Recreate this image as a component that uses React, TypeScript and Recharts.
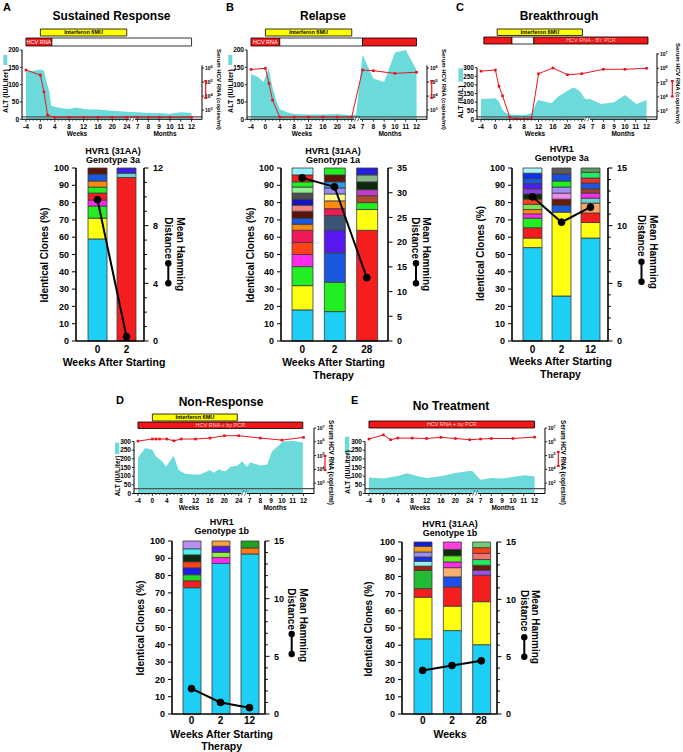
import React from 'react';
import {
  ComposedChart, Area, Line, Bar, Cell, XAxis, YAxis, ReferenceArea, ReferenceLine,
} from 'recharts';

const FONT = '"Liberation Sans", Arial, Helvetica, sans-serif';
const ALT_FILL = '#6cdada';
const RNA_RED = '#e8141c';

// ================= Timeline axis (weeks -4..24, then months 7..12 every 3 units) =================
const weekTicks = [-4, -3, -2, -1, 0, 1, 2, 3, 4, 5, 6, 7, 8, 9, 10, 11, 12, 13, 14, 15, 16, 17, 18, 19, 20, 21, 22, 23, 24];
const axisBreak = 25.5;
const monthPositions = [27, 30, 33, 36, 39, 42];
const monthLabels = ['7', '8', '9', '10', '11', '12'];

// ================= Panel A timeline =================
const aAltWeeks = [-4, -2, 0, 1, 1.8, 2.5, 3, 4, 6, 8, 10, 12, 14, 16, 20, 24, 27, 30, 33, 36, 39, 42];
const aAltValues = [138, 140, 144, 140, 105, 80, 40, 36, 32, 30, 34, 30, 28, 28, 25, 22, 20, 18, 18, 16, 20, 18];
const aRnaWeeks = [-4, 0, 1, 2, 4, 8, 12, 16, 20, 24, 27, 30, 33, 36, 42];
const aRnaLog = [5.86, 5.5, 4.3, 2.64, 2.48, 2.48, 2.48, 2.48, 2.48, 2.48, 2.48, 2.48, 2.48, 2.48, 2.48];
const aInterferon = [0, 24];
const aRnaFrom = [-4, 3.2];
const aRnaTo = [3.2, 42];
const aRnaPositive = [true, false];

// ================= Panel B timeline =================
const bAltWeeks = [-4, -2, -0.5, 0.9, 2, 3, 4, 6, 8, 12, 16, 20, 24, 25.2, 27, 30, 33, 36, 39, 42];
const bAltValues = [131, 121, 108, 147, 92, 55, 29, 20, 15, 14, 14, 15, 12, 14, 186, 118, 108, 193, 200, 142];
const bRnaWeeks = [-4, 0, 1, 2, 4, 8, 12, 16, 20, 24, 27, 30, 36, 42];
const bRnaLog = [5.9, 5.98, 4.9, 3.71, 2.5, 2.5, 2.5, 2.5, 2.5, 2.5, 5.86, 5.81, 5.62, 5.7];
const bInterferon = [0, 24];
const bRnaFrom = [-4, 4, 27];
const bRnaTo = [4, 27, 42];
const bRnaPositive = [true, false, true];

// ================= Panel C timeline =================
const cAltWeeks = [-4, 0, 1, 2, 3, 4, 6, 8, 10, 10.6, 11.5, 12, 12.7, 15.6, 17.4, 21.2, 22, 23.6, 25, 26.3, 29.4, 33, 36, 39.2, 42];
const cAltValues = [118, 122, 103, 54, 35, 29, 25, 25, 35, 60, 100, 112, 108, 93, 131, 180, 184, 160, 116, 118, 89, 99, 141, 89, 112];
const cRnaWeeks = [-4, 0, 1, 2, 4, 6, 8, 10, 12, 16, 20, 24, 30, 36, 42];
const cRnaLog = [5.8, 5.88, 4.74, 4.07, 2.57, 2.46, 2.46, 2.46, 5.62, 6.02, 5.55, 5.62, 5.93, 5.93, 6.0];
const cInterferon = [0.5, 24.2];
const cRnaFrom = [-3.2, 4.6, 10.7];
const cRnaTo = [4.6, 10.7, 42.4];
const cRnaPositive = [true, false, true];

// ================= Panel D timeline =================
const dAltWeeks = [-4, -2, 0, 1, 2.7, 3.8, 5.9, 7.3, 9.1, 12, 13.3, 16, 17, 18.4, 20.3, 21.7, 23.7, 24.9, 26.3, 27.2, 30, 31.9, 33.2, 36.3, 39.2, 41.8];
const dAltValues = [205, 262, 252, 214, 186, 154, 218, 135, 114, 110, 110, 135, 120, 139, 129, 154, 161, 186, 154, 180, 161, 167, 243, 300, 304, 294];
const dRnaWeeks = [-4, 0, 1, 2, 4, 6, 8, 12, 16, 20, 24, 30, 36, 42];
const dRnaLog = [6.05, 6.2, 6.2, 6.2, 6.2, 6.07, 6.2, 6.2, 6.27, 6.44, 6.44, 6.27, 6.12, 6.32];
const dInterferon = [0, 23.6];
const dRnaFrom = [-4];
const dRnaTo = [41.8];
const dRnaPositive = [true];

// ================= Panel E timeline =================
const eAltWeeks = [-4, 0, 4, 6.6, 9.4, 12, 16, 20, 24, 24.8, 27, 30, 33, 36.2, 39.2, 42];
const eAltValues = [92, 86, 101, 117, 101, 90, 99, 118, 130, 128, 80, 90, 86, 96, 105, 99];
const eRnaWeeks = [-4, 0, 2, 4, 8, 12, 16, 20, 24, 27, 30, 36, 42];
const eRnaLog = [6.2, 6.5, 6.15, 6.27, 6.27, 6.24, 6.32, 6.24, 6.15, 6.2, 6.24, 6.24, 6.34];
const eRnaFrom = [-4];
const eRnaTo = [42];
const eRnaPositive = [true];

// ================= Clone bar data (bottom -> top segments, %) =================
const aCats = ['0', '2'];
const aWk0 = [59, 12, 7, 3.5, 4, 3.5, 3.5, 4, 3.5];
const aWk2 = [94.5, 2.5, 3];
const aHamming = [9.8, 0.3];

const bCats = ['0', '2', '28'];
const bWk0 = [18, 14, 11, 7, 7, 7, 3.5, 3.5, 4, 3.5, 3.5, 3.5, 3.5, 3, 4, 4];
const bWk2 = [17, 17, 17, 13, 8.5, 4, 4.5, 4, 3.5, 3.5, 4, 4];
const bWk28 = [64, 12, 4, 4, 3.5, 4.5, 4, 4];
const bHamming = [33, 31.2, 12.8];

const cCats = ['0', '2', '12'];
const cWk0 = [54, 5.5, 6, 5.5, 2.5, 2.5, 3, 3, 3, 3, 3, 3, 3, 3];
const cWk2 = [26, 48.5, 4, 3.5, 3.5, 3.5, 3.5, 4, 3.5];
const cWk12 = [59.5, 9, 5.5, 5.7, 2.9, 2.9, 2.5, 3.3, 2.9, 3.3, 2.5];
const cHamming = [12.5, 10.3, 11.6];

const dCats = ['0', '2', '12'];
const dWk0 = [73, 4, 3.5, 4, 3.5, 4, 3.5, 4.5];
const dWk2 = [87, 3.5, 3, 3.5, 3];
const dWk12 = [92.5, 3.5, 4];
const dHamming = [2.2, 1.0, 0.55];

const eCats = ['0', '2', '28'];
const eWk0 = [43.7, 24.2, 5, 10.6, 2.5, 2.8, 2.5, 2.9, 3.3, 2.5];
const eWk2 = [48.5, 14.2, 11.2, 5.8, 5.4, 3.3, 3.6, 3.7, 4.3];
const eWk28 = [40.3, 25, 15.4, 2.9, 2.9, 3.3, 3.6, 3.3, 3.3];
const eHamming = [3.8, 4.23, 4.64];

// ================= segment colours (styles) =================
const CY = '#1dcff5', YE = '#ffff10', GR = '#22ee22', MA = '#ff2aee', RE = '#f51e1e', OR = '#ff8a10',
  BL = '#1a58e0', DB = '#5a1408', TE = '#66d4d4', VB = '#3a22e6', CR = '#f0195a', RO = '#ff4018',
  SA = '#f58080', DK = '#1414c0', GY = '#4e4e4e', LG = '#92ee92', LC = '#92f0ff', SL = '#3b5577',
  VI = '#5818f0', LY = '#ffff8a', PW = '#9c8cf2', SK = '#2a9af0', SI = '#b04a2a', PM = '#c03cc8',
  DG = '#0d2a0d', SG = '#88b888', LO = '#f8a860', LV = '#b890f0', PU = '#8a40e0', BG = '#20ee60';

const aColors = [[CY, YE, GR, MA, RE, GR, OR, BL, DB], [RE, TE, VB]];
const bColors = [
  [CY, YE, GR, MA, RO, CR, OR, BL, DB, SA, DK, GY, LG, GR, RE, LC],
  [CY, GR, BL, VI, SL, CR, OR, LY, PW, SK, DB, GR],
  [RE, YE, GR, SI, PM, DG, SG, '#2222dd'],
];
const cColors = [
  [CY, YE, RE, GR, MA, OR, '#80e050', RO, DG, PU, '#4c20e8', BL, '#1030f0', '#a8f4ff'],
  [CY, YE, BL, '#6a1a08', '#f08af0', '#a090f0', GR, '#1a50e0', '#5a5a5a'],
  [CY, YE, RE, LO, '#70d0d0', MA, '#9a4030', BL, '#f03030', BG, '#5a9a60'],
];
const dColors = [
  [CY, RE, '#22dd22', '#1a20f0', RO, DG, '#50f0f0', LV],
  [CY, MA, '#90f040', VI, '#f8a040'],
  [CY, '#ff7a10', '#20a020'],
];
const eColors = [
  [CY, YE, RE, '#22bb33', '#a82010', LC, '#1a30f0', '#9a90f0', '#f8a020', '#1020e0'],
  [CY, YE, RE, '#1a50f0', '#f8b070', MA, '#60f020', DG, '#ff40e0'],
  [CY, YE, RE, '#9a50f0', '#6a1a08', BG, '#f87070', RO, '#70cc70'],
];

// ================= layout configs =================
type TLCfg = {
  left: number; right: number; top: number; bottom: number; mt: number;
  altMax: number; altTicks: number[]; altAxisTop: number;
  logMin: number; logMax: number; logTicks: number[]; logAxisTop: number; detect: number;
};
const X_DOMAIN: [number, number] = [-5.1, 44.9];
const alt200 = [0, 50, 100, 150, 200];
const alt300 = [0, 50, 100, 150, 200, 250, 300];
const tlA: TLCfg = { left: 22, right: 202, top: 50, bottom: 119.3, mt: 26, altMax: 200, altTicks: alt200, altAxisTop: 200, logMin: 2.34, logMax: 7.29, logTicks: [3, 4, 5, 6], logAxisTop: 6.2, detect: 2.52 };
const tlB: TLCfg = { ...tlA, left: 247, right: 427 };
const tlC: TLCfg = { left: 477, right: 657, top: 50, bottom: 119.3, mt: 26, altMax: 403, altTicks: alt300, altAxisTop: 300, logMin: 2.43, logMax: 7.28, logTicks: [3, 4, 5, 6, 7], logAxisTop: 7.05, detect: 2.6 };
const tlD: TLCfg = { left: 134, right: 314, top: 428, bottom: 493.5, mt: 20, altMax: 378, altTicks: alt300, altAxisTop: 300, logMin: 2.25, logMax: 7, logTicks: [3, 4, 5, 6, 7], logAxisTop: 7, detect: 2.6 };
const tlE: TLCfg = { ...tlD, left: 365.3, right: 545.3 };

type BCCfg = { left: number; right: number; top: number; bottom: number; hamMax: number; hamMajor: number; hamStep: number; barSize: number; pad: { left: number; right: number }; tickGap: number };
const bcA: BCCfg = { left: 76, right: 144, top: 168, bottom: 341, hamMax: 12, hamMajor: 4, hamStep: 1, barSize: 19, pad: { left: 7, right: 3 }, tickGap: 5 };
const bcB: BCCfg = { left: 281, right: 388, top: 168, bottom: 341, hamMax: 35, hamMajor: 5, hamStep: 5, barSize: 21, pad: { left: 5, right: 5 }, tickGap: 5 };
const bcC: BCCfg = { left: 512, right: 608, top: 168, bottom: 341, hamMax: 15, hamMajor: 5, hamStep: 1, barSize: 19, pad: { left: 6, right: 3 }, tickGap: 5 };
const bcD: BCCfg = { left: 172, right: 265, top: 541, bottom: 714, hamMax: 15, hamMajor: 5, hamStep: 1, barSize: 18, pad: { left: 5, right: 1 }, tickGap: 3 };
const bcE: BCCfg = { left: 402, right: 497, top: 542, bottom: 714, hamMax: 15, hamMajor: 5, hamStep: 1, barSize: 18, pad: { left: 6, right: 1 }, tickGap: 3 };

// ================= helpers =================
function mergeTimeline(altX: number[], altY: number[], rnaX: number[], rnaY: number[]) {
  const m = new Map<number, any>();
  altX.forEach((x, i) => { const r = m.get(x) || { p: x }; r.alt = altY[i]; m.set(x, r); });
  rnaX.forEach((x, i) => { const r = m.get(x) || { p: x }; r.rna = rnaY[i]; m.set(x, r); });
  return Array.from(m.values()).sort((a, b) => a.p - b.p);
}
function periods(from: number[], to: number[], pos: boolean[], labelIdx: number, label: string, labelColor: string) {
  return from.map((f, i) => ({ from: f, to: to[i], pos: pos[i], label: i === labelIdx ? label : '', labelColor }));
}
function pxToAlt(cfg: TLCfg, y: number) {
  return cfg.altMax * (cfg.bottom - y) / (cfg.bottom - cfg.top);
}
const timeTicks = [...weekTicks, axisBreak, ...monthPositions];
function timeLabel(v: number): string | null {
  const mi = monthPositions.indexOf(v);
  if (mi >= 0) return monthLabels[mi];
  if (v <= 24 && v % 4 === 0) return String(v);
  return null;
}
const renderTimeTick = (props: any) => {
  const { x, y, payload } = props;
  const v = payload.value;
  if (v === axisBreak) {
    return (
      <g>
        <rect x={x - 2.8} y={y - 1.5} width={5.6} height={3} fill="#fff" />
        <line x1={x - 2.6} y1={y + 2} x2={x - 0.6} y2={y - 3} stroke="#000" strokeWidth={0.6} />
        <line x1={x + 0.4} y1={y + 2} x2={x + 2.4} y2={y - 3} stroke="#000" strokeWidth={0.6} />
      </g>
    );
  }
  const lab = timeLabel(v);
  if (lab == null) return <line x1={x} x2={x} y1={y} y2={y + 1.4} stroke="#000" strokeWidth={0.7} />;
  return (
    <g>
      <line x1={x} x2={x} y1={y} y2={y + 2.5} stroke="#000" strokeWidth={0.8} />
      <text x={x} y={y + 9.3} textAnchor="middle" fontSize={6.5} fontWeight={700} fontFamily={FONT} fill="#000">{lab}</text>
    </g>
  );
};
const renderAltTick = (props: any) => {
  const { x, y, payload } = props;
  return (
    <g>
      <line x1={x - 2.2} x2={x} y1={y} y2={y} stroke="#000" strokeWidth={0.8} />
      <text x={x - 3} y={y + 2.3} textAnchor="end" fontSize={6.5} fontWeight={700} fontFamily={FONT} fill="#000">{payload.value}</text>
    </g>
  );
};
const renderLogTick = (props: any) => {
  const { x, y, payload } = props;
  return (
    <g>
      <line x1={x} x2={x + 2.2} y1={y} y2={y} stroke="#000" strokeWidth={0.8} />
      <text x={x + 3} y={y + 2} textAnchor="start" fontSize={5} fontWeight={700} fontFamily={FONT} fill="#000">
        10<tspan dy={-2.3} fontSize={3.8}>{payload.value}</tspan>
      </text>
    </g>
  );
};
const makeHamTick = (major: number) => (props: any) => {
  const { x, y, payload } = props;
  const v = payload.value;
  const isMajor = v % major === 0;
  return (
    <g>
      <line x1={x} x2={x + (isMajor ? 4.5 : 2.8)} y1={y} y2={y} stroke="#000" strokeWidth={1} />
      {isMajor ? <text x={x + 9} y={y + 3.3} fontSize={9} fontWeight={700} fontFamily={FONT} fill="#000">{v}</text> : null}
    </g>
  );
};
const rnaDot = (props: any) => {
  const { cx, cy, payload, index } = props;
  if (payload == null || payload.rna == null || cx == null || cy == null) return <g key={`e${index}`} />;
  return <rect key={`d${index}`} x={cx - 1.3} y={cy - 1.3} width={2.6} height={2.6} fill={RNA_RED} />;
};

type Period = { from: number; to: number; pos: boolean; label: string; labelColor: string };

function Timeline({ cfg, rows, ifn, ifnY, rna, rnaY }: { cfg: TLCfg; rows: any[]; ifn: number[] | null; ifnY: number[]; rna: Period[]; rnaY: number[] }) {
  const wl = 26, wr = 20, hx = 12;
  const W = cfg.right - cfg.left + wl + wr;
  const H = cfg.mt + (cfg.bottom - cfg.top) + hx;
  return (
    <div style={{ position: 'absolute', left: cfg.left - wl, top: cfg.top - cfg.mt }}>
      <ComposedChart width={W} height={H} data={rows} margin={{ top: cfg.mt, right: 0, bottom: 0, left: 0 }}>
        <XAxis dataKey="p" type="number" domain={X_DOMAIN} allowDataOverflow ticks={timeTicks} interval={0}
          tick={renderTimeTick} tickLine={false} tickSize={0} tickMargin={0} height={hx}
          axisLine={{ stroke: '#000', strokeWidth: 1 }} />
        <YAxis yAxisId="alt" width={wl} domain={[0, cfg.altMax]} allowDataOverflow ticks={cfg.altTicks} interval={0}
          tick={renderAltTick} tickLine={false} tickSize={0} tickMargin={0} axisLine={false} />
        <YAxis yAxisId="rna" orientation="right" width={wr} domain={[cfg.logMin, cfg.logMax]} allowDataOverflow
          ticks={cfg.logTicks} interval={0} tick={renderLogTick} tickLine={false} tickSize={0} tickMargin={0} axisLine={false} />
        <Area yAxisId="alt" dataKey="alt" type="linear" stroke="none" fill={ALT_FILL} fillOpacity={1}
          connectNulls isAnimationActive={false} />
        <ReferenceLine yAxisId="rna" y={cfg.detect} stroke="#555" strokeWidth={1.2} />
        <ReferenceLine yAxisId="alt" segment={[{ x: X_DOMAIN[0], y: 0 }, { x: X_DOMAIN[0], y: cfg.altAxisTop }]}
          stroke="#000" strokeWidth={1} ifOverflow="visible" />
        <ReferenceLine yAxisId="rna" segment={[{ x: X_DOMAIN[1], y: cfg.logMin }, { x: X_DOMAIN[1], y: cfg.logAxisTop }]}
          stroke="#000" strokeWidth={1} ifOverflow="visible" />
        <Line yAxisId="rna" dataKey="rna" type="linear" stroke={RNA_RED} strokeWidth={1} connectNulls
          dot={rnaDot} activeDot={false} isAnimationActive={false} />
        {ifn ? (
          <ReferenceArea yAxisId="alt" x1={ifn[0]} x2={ifn[1]} y1={pxToAlt(cfg, ifnY[1])} y2={pxToAlt(cfg, ifnY[0])}
            fill="#ffff00" fillOpacity={1} stroke="#000" strokeWidth={0.8} ifOverflow="visible"
            label={{ value: 'Interferon 6MU', position: 'center', fontSize: 5.5, fontWeight: 700, fill: '#000', fontFamily: FONT }} />
        ) : null}
        {rna.map((r, i) => (
          <ReferenceArea key={i} yAxisId="alt" x1={r.from} x2={r.to} y1={pxToAlt(cfg, rnaY[1])} y2={pxToAlt(cfg, rnaY[0])}
            fill={r.pos ? '#f01818' : '#ffffff'} fillOpacity={1} stroke="#000" strokeWidth={0.8} ifOverflow="visible"
            label={r.label ? { value: r.label, position: 'center', fontSize: 5.5, fill: r.labelColor, fontFamily: FONT } : undefined} />
        ))}
      </ComposedChart>
    </div>
  );
}

const pctTicks = [0, 10, 20, 30, 40, 50, 60, 70, 80, 90, 100];

function CloneChart({ cfg, cats, segs, cols, ham }: { cfg: BCCfg; cats: string[]; segs: number[][]; cols: string[][]; ham: number[] }) {
  const wl = 28, wr = 24, mt = 6, hx = 18;
  const W = cfg.right - cfg.left + wl + wr;
  const H = mt + (cfg.bottom - cfg.top) + hx;
  const nSeg = Math.max(...segs.map((s) => s.length));
  const rows = cats.map((c, i) => {
    const r: any = { cat: c, ham: ham[i] };
    segs[i].forEach((v, j) => { r['s' + j] = v; });
    return r;
  });
  const hamTicks: number[] = [];
  for (let v = 0; v <= cfg.hamMax; v += cfg.hamStep) hamTicks.push(v);
  return (
    <div style={{ position: 'absolute', left: cfg.left - wl, top: cfg.top - mt }}>
      <ComposedChart width={W} height={H} data={rows} margin={{ top: mt, right: 0, bottom: 0, left: 0 }}>
        <XAxis dataKey="cat" padding={cfg.pad} tickLine={false} tickSize={0} tickMargin={cfg.tickGap} height={hx} interval={0}
          axisLine={{ stroke: '#000', strokeWidth: 1.6 }}
          tick={{ fontSize: 10, fontWeight: 700, fill: '#000', fontFamily: FONT }} />
        <YAxis yAxisId="pct" width={wl} domain={[0, 100]} ticks={pctTicks} interval={0} tickSize={4} tickMargin={3}
          tickLine={{ stroke: '#000' }} axisLine={{ stroke: '#000', strokeWidth: 1.6 }}
          tick={{ fontSize: 9, fontWeight: 700, fill: '#000', fontFamily: FONT }} />
        <YAxis yAxisId="ham" orientation="right" width={wr} domain={[0, cfg.hamMax]} ticks={hamTicks} interval={0}
          tickSize={0} tickMargin={0} tickLine={false} axisLine={{ stroke: '#000', strokeWidth: 1.6 }}
          tick={makeHamTick(cfg.hamMajor)} />
        {Array.from({ length: nSeg }, (_, j) => (
          <Bar key={'s' + j} yAxisId="pct" dataKey={'s' + j} stackId="clones" barSize={cfg.barSize} isAnimationActive={false}>
            {rows.map((r, i) => (
              <Cell key={i} fill={cols[i][j] ?? 'none'} stroke={cols[i][j] ? '#3a3a3a' : 'none'} strokeWidth={0.8} />
            ))}
          </Bar>
        ))}
        <Line yAxisId="ham" dataKey="ham" type="linear" stroke="#000" strokeWidth={2}
          dot={{ r: 3.4, fill: '#000', stroke: '#000', strokeWidth: 1 }} activeDot={false} isAnimationActive={false} />
      </ComposedChart>
    </div>
  );
}

// ================= overlay text helpers =================
const bold = { fontFamily: FONT, fontWeight: 700, fill: '#000' } as const;
function Tx({ x, y, s, a = 'middle', c = '#000', w = 700, children }: any) {
  return <text x={x} y={y} fontSize={s} textAnchor={a} fontFamily={FONT} fontWeight={w} fill={c}>{children}</text>;
}
function VUp({ x, y, s, children }: any) {
  return <text transform={`translate(${x},${y}) rotate(-90)`} textAnchor="middle" dominantBaseline="central" fontSize={s} {...bold}>{children}</text>;
}
function VDown({ x, y, s, children }: any) {
  return <text transform={`translate(${x},${y}) rotate(90)`} textAnchor="start" dominantBaseline="central" fontSize={s} {...bold}>{children}</text>;
}
function Lollipop({ x, y1, y2 }: any) {
  return (
    <g>
      <line x1={x} x2={x} y1={y1} y2={y2} stroke="#000" strokeWidth={2} />
      <circle cx={x} cy={y1} r={3.2} fill="#000" />
      <circle cx={x} cy={y2} r={3.2} fill="#000" />
    </g>
  );
}
function RedKey({ x, y1, y2 }: any) {
  return (
    <g>
      <line x1={x} x2={x} y1={y1} y2={y2} stroke={RNA_RED} strokeWidth={1.2} />
      <rect x={x - 1.4} y={y1 - 1} width={2.8} height={2} fill={RNA_RED} />
      <rect x={x - 1.4} y={y2 - 1} width={2.8} height={2} fill={RNA_RED} />
    </g>
  );
}
function Swatch({ x, y, w, h }: any) {
  return <rect x={x} y={y} width={w} height={h} fill={ALT_FILL} />;
}
function HamLabel({ x1, x2, y, lx, ly1, ly2 }: any) {
  return (
    <g>
      <VDown x={x1} y={y} s={10}>Mean Hamming</VDown>
      <VDown x={x2} y={y} s={10}>Distance</VDown>
      <Lollipop x={lx} y1={ly1} y2={ly2} />
    </g>
  );
}

// ================= rows =================
const aRows = mergeTimeline(aAltWeeks, aAltValues, aRnaWeeks, aRnaLog);
const bRows = mergeTimeline(bAltWeeks, bAltValues, bRnaWeeks, bRnaLog);
const cRows = mergeTimeline(cAltWeeks, cAltValues, cRnaWeeks, cRnaLog);
const dRows = mergeTimeline(dAltWeeks, dAltValues, dRnaWeeks, dRnaLog);
const eRows = mergeTimeline(eAltWeeks, eAltValues, eRnaWeeks, eRnaLog);

export default function App() {
  return (
    <div style={{ position: 'absolute', left: 0, top: 0, width: 683, height: 752, background: '#fff', overflow: 'hidden' }}>
      <Timeline cfg={tlA} rows={aRows} ifn={aInterferon} ifnY={[29, 36]}
        rna={periods(aRnaFrom, aRnaTo, aRnaPositive, 0, 'HCV RNA', '#fff')} rnaY={[38, 46]} />
      <Timeline cfg={tlB} rows={bRows} ifn={bInterferon} ifnY={[29, 36]}
        rna={periods(bRnaFrom, bRnaTo, bRnaPositive, 0, 'HCV RNA', '#fff')} rnaY={[38, 46]} />
      <Timeline cfg={tlC} rows={cRows} ifn={cInterferon} ifnY={[29, 35.5]}
        rna={periods(cRnaFrom, cRnaTo, cRnaPositive, 2, 'HCV RNA - BY PCR', '#ffc0c0')} rnaY={[37, 44]} />
      <Timeline cfg={tlD} rows={dRows} ifn={dInterferon} ifnY={[414, 421]}
        rna={periods(dRnaFrom, dRnaTo, dRnaPositive, 0, 'HCV RNA + by PCR', '#ffd0d0')} rnaY={[422, 428.5]} />
      <Timeline cfg={tlE} rows={eRows} ifn={null} ifnY={[0, 0]}
        rna={periods(eRnaFrom, eRnaTo, eRnaPositive, 0, 'HCV RNA + by PCR', '#ffd0d0')} rnaY={[421, 428]} />

      <CloneChart cfg={bcA} cats={aCats} segs={[aWk0, aWk2]} cols={aColors} ham={aHamming} />
      <CloneChart cfg={bcB} cats={bCats} segs={[bWk0, bWk2, bWk28]} cols={bColors} ham={bHamming} />
      <CloneChart cfg={bcC} cats={cCats} segs={[cWk0, cWk2, cWk12]} cols={cColors} ham={cHamming} />
      <CloneChart cfg={bcD} cats={dCats} segs={[dWk0, dWk2, dWk12]} cols={dColors} ham={dHamming} />
      <CloneChart cfg={bcE} cats={eCats} segs={[eWk0, eWk2, eWk28]} cols={eColors} ham={eHamming} />

      <svg width={683} height={752} style={{ position: 'absolute', left: 0, top: 0, pointerEvents: 'none' }}>
        {/* panel letters */}
        <Tx x={3} y={11} s={11} a="start">A</Tx>
        <Tx x={226} y={11} s={11} a="start">B</Tx>
        <Tx x={456} y={11} s={11} a="start">C</Tx>
        <Tx x={116} y={404} s={11} a="start">D</Tx>
        <Tx x={351} y={404} s={11} a="start">E</Tx>

        {/* titles */}
        <Tx x={111.5} y={20} s={12}>Sustained Response</Tx>
        <Tx x={323} y={20} s={12}>Relapse</Tx>
        <Tx x={559} y={20} s={12}>Breakthrough</Tx>
        <Tx x={221} y={406} s={12}>Non-Response</Tx>
        <Tx x={451} y={410} s={12}>No Treatment</Tx>

        {/* timeline legends and axis titles */}
        <Swatch x={3.3} y={55} w={4} h={10} />
        <VUp x={5.5} y={91} s={7}>ALT (IU/Liter)</VUp>
        <VDown x={219} y={49} s={6}>Serum HCV RNA (copies/ml)</VDown>
        <RedKey x={205.7} y1={81} y2={98} />
        <Tx x={77} y={136} s={6.5}>Weeks</Tx>
        <Tx x={165} y={136} s={6.5}>Months</Tx>

        <Swatch x={228.3} y={55} w={4} h={10} />
        <VUp x={230.5} y={91} s={7}>ALT (IU/Liter)</VUp>
        <VDown x={443.5} y={49} s={6}>Serum HCV RNA (copies/ml)</VDown>
        <RedKey x={431.7} y1={81} y2={98} />
        <Tx x={302} y={136} s={6.5}>Weeks</Tx>
        <Tx x={390} y={136} s={6.5}>Months</Tx>

        <Swatch x={458.5} y={68.3} w={4.5} h={13.4} />
        <VUp x={460.7} y={102} s={7}>ALT (IU/L)</VUp>
        <VDown x={678.3} y={43} s={6}>Serum HCV RNA (copies/ml)</VDown>
        <RedKey x={672.3} y1={81} y2={96.5} />
        <Tx x={535} y={136} s={6.5}>Weeks</Tx>
        <Tx x={623} y={136} s={6.5}>Months</Tx>

        <Swatch x={115} y={442.7} w={4.3} h={11.3} />
        <VUp x={117} y={476} s={6.5}>ALT (IU/Liter)</VUp>
        <VDown x={331.7} y={420} s={6.3}>Serum HCV RNA (copies/ml)</VDown>
        <RedKey x={325} y1={456} y2={470} />
        <Tx x={189} y={510} s={6.5}>Weeks</Tx>
        <Tx x={275} y={510} s={6.5}>Months</Tx>

        <Swatch x={345} y={436.7} w={4.3} h={17.3} />
        <VUp x={347} y={472} s={7}>ALT (IU/Liter)</VUp>
        <VDown x={563.3} y={420} s={6.3}>Serum HCV RNA (copies/ml)</VDown>
        <RedKey x={558.3} y1={452} y2={466} />
        <Tx x={420} y={510} s={6.5}>Weeks</Tx>
        <Tx x={503} y={510} s={6.5}>Months</Tx>

        {/* clone chart titles */}
        <Tx x={113} y={153.5} s={9}>HVR1 (31AA)</Tx>
        <Tx x={113} y={162.5} s={9}>Genotype 3a</Tx>
        <Tx x={333} y={153.5} s={9}>HVR1 (31AA)</Tx>
        <Tx x={333} y={162.5} s={9}>Genotype 1a</Tx>
        <Tx x={561.7} y={152} s={9}>HVR1</Tx>
        <Tx x={561.7} y={161} s={9}>Genotype 3a</Tx>
        <Tx x={221.7} y={525} s={9}>HVR1</Tx>
        <Tx x={221.7} y={534} s={9}>Genotype 1b</Tx>
        <Tx x={450} y={527} s={9}>HVR1 (31AA)</Tx>
        <Tx x={450} y={536} s={9}>Genotype 1b</Tx>

        {/* y titles */}
        <VUp x={44.2} y={255} s={10}>Identical Clones (%)</VUp>
        <VUp x={250.8} y={255} s={10}>Identical Clones (%)</VUp>
        <VUp x={480.8} y={253.5} s={10}>Identical Clones (%)</VUp>
        <VUp x={140} y={628} s={10}>Identical Clones (%)</VUp>
        <VUp x={368.8} y={629} s={10}>Identical Clones (%)</VUp>

        <HamLabel x1={180} x2={168} y={217.3} lx={168.3} ly1={263.3} ly2={283.3} />
        <HamLabel x1={426.7} x2={415} y={217.3} lx={416} ly1={263.3} ly2={283.3} />
        <HamLabel x1={653} x2={641.7} y={215} lx={641.5} ly1={261.7} ly2={281.7} />
        <HamLabel x1={303.3} x2={291.7} y={588.3} lx={291.7} ly1={634} ly2={654} />
        <HamLabel x1={535} x2={524} y={590} lx={524.3} ly1={637.3} ly2={656.7} />

        {/* x titles */}
        <Tx x={114} y={366} s={10.5}>Weeks After Starting</Tx>
        <Tx x={333.5} y={366} s={10.5}>Weeks After Starting</Tx>
        <Tx x={333.5} y={379} s={10.5}>Therapy</Tx>
        <Tx x={560.5} y={365} s={10.5}>Weeks After Starting</Tx>
        <Tx x={560.5} y={378} s={10.5}>Therapy</Tx>
        <Tx x={221.7} y={737.5} s={10.5}>Weeks After Starting</Tx>
        <Tx x={221.7} y={750} s={10.5}>Therapy</Tx>
        <Tx x={450} y={737.5} s={10.5}>Weeks</Tx>
      </svg>
    </div>
  );
}
